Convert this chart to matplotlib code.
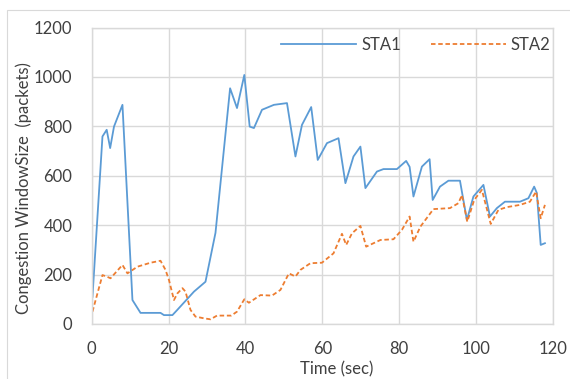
import matplotlib
matplotlib.use("Agg")
import matplotlib.pyplot as plt
from matplotlib.patches import Rectangle

plt.rcParams['font.family'] = ['Lato', 'DejaVu Sans']

# time (sec) and congestion window (packets)
t1 = [0.2, 2.8, 3.9, 4.8, 5.8, 8.0, 10.6, 12.7, 17.9, 18.8, 21.0, 22.2, 26.6, 29.6,
      32.2, 36.0, 37.8, 39.7, 41.1, 42.2, 44.3, 47.4, 50.8, 53.0, 54.7, 57.1, 58.8,
      61.2, 64.2, 66.0, 68.1, 69.9, 71.2, 74.2, 75.9, 79.4, 81.8, 82.7, 83.7, 85.9,
      87.9, 88.7, 90.6, 92.8, 95.8, 97.6, 99.3, 101.9, 103.6, 105.4, 107.5, 111.4,
      113.6, 115.1, 115.8, 116.8, 117.9]
sta1 = [110, 759, 786, 712, 799, 887, 97, 45, 45, 36, 36, 56, 131, 171,
        369, 954, 874, 1008, 799, 793, 867, 887, 894, 678, 806, 878, 664,
        732, 752, 570, 678, 718, 550, 617, 627, 627, 660, 636, 516, 637,
        667, 502, 556, 580, 580, 421, 516, 563, 435, 469, 495, 495,
        509, 556, 530, 320, 327]

t2 = [0.2, 2.8, 3.9, 4.9, 8.0, 9.3, 11.9, 15.3, 17.9, 19.2, 20.1, 21.4, 22.3, 23.6,
      24.4, 25.7, 27.0, 29.2, 30.9, 32.6, 36.3, 37.8, 39.7, 40.9, 43.9, 46.9, 49.1,
      51.3, 53.0, 54.3, 56.9, 59.9, 62.9, 65.1, 66.2, 67.7, 69.9, 71.4, 75.1, 78.5,
      80.7, 82.7, 83.7, 85.5, 88.9, 93.2, 95.4, 96.3, 97.7, 99.5, 101.5, 103.8,
      105.8, 108.0, 111.4, 114.0, 115.6, 116.8, 117.9]
sta2 = [50, 198, 192, 185, 239, 205, 232, 248, 256, 219, 178, 97, 124, 145,
        131, 57, 30, 23, 19, 34, 34, 50, 100, 86, 117, 115, 138,
        205, 192, 219, 246, 248, 286, 365, 320, 367, 397, 313, 340, 343,
        381, 435, 333, 394, 465, 469, 489, 522, 414, 502, 543, 405,
        462, 473, 482, 495, 536, 428, 482]

grid_c = '#D9D9D9'
text_c = '#404040'

fig = plt.figure(figsize=(5.7, 3.79), dpi=100)
# chart-area frame (right and bottom edges fall outside the picture)
fig.patches.append(Rectangle((7 / 570, -10 / 379), 580 / 570, 379 / 379,
                             transform=fig.transFigure, fill=False,
                             edgecolor=grid_c, linewidth=0.8))

ax = fig.add_axes([91.7 / 570, 1 - 324 / 379, (553 - 91.7) / 570, (324 - 27.5) / 379])
ax.plot(t1, sta1, color='#5B9BD5', linewidth=1.3, label='STA1')
ax.plot(t2, sta2, color='#ED7D31', linewidth=1.3, dashes=(2.5, 1.5), label='STA2')

ax.set_xlim(0, 120)
ax.set_ylim(0, 1200)
ax.set_xticks(range(0, 121, 20))
ax.set_yticks(range(0, 1201, 200))
ax.grid(True, color=grid_c, linewidth=1.0)
ax.set_axisbelow(True)
for s in ax.spines.values():
    s.set_color(grid_c)
    s.set_linewidth(1.0)
ax.tick_params(length=0, labelsize=12, colors=text_c)
ax.tick_params(axis='y', pad=14)
ax.tick_params(axis='x', pad=12)

ax.set_xlabel('Time (sec)', fontsize=12, color=text_c, va='center')
ax.xaxis.set_label_coords(0.53, -0.152)
ax.set_ylabel('Congestion WindowSize  (packets)', fontsize=12, color=text_c, va='center')
ax.yaxis.set_label_coords(-0.147, 0.46)

ax.legend(loc='center', bbox_to_anchor=(0.703, 0.941), ncol=2, frameon=False,
          fontsize=12, handlelength=4.5, columnspacing=1.8, handletextpad=0.3,
          labelcolor=text_c)

fig.savefig('out.png', dpi=100)
